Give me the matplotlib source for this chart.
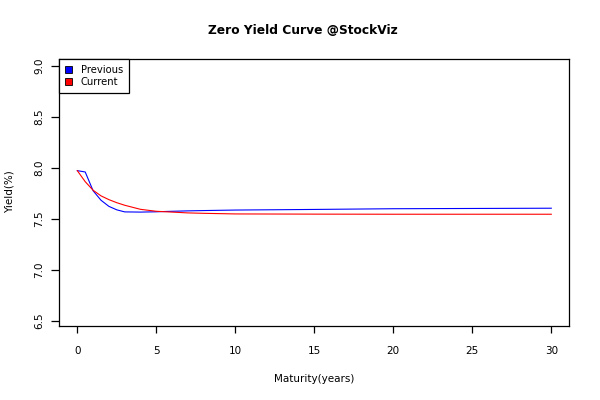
import matplotlib
matplotlib.use("Agg")
import matplotlib.pyplot as plt
from matplotlib.patches import Patch

maturity = [0, 0.5, 1, 1.5, 2, 2.5, 3, 4, 5, 6, 7, 8, 10, 15, 20, 30]
previous = [7.972, 7.959, 7.775, 7.682, 7.622, 7.588, 7.568, 7.566, 7.569,
            7.574, 7.578, 7.581, 7.586, 7.592, 7.599, 7.604]
current = [7.972, 7.864, 7.780, 7.725, 7.688, 7.658, 7.633, 7.593, 7.574,
           7.566, 7.558, 7.554, 7.548, 7.546, 7.545, 7.545]
xticks = [0, 5, 10, 15, 20, 25, 30]
yticks = [6.5, 7.0, 7.5, 8.0, 8.5, 9.0]

plt.rcParams['font.family'] = ['DejaVu Sans']
fig = plt.figure(figsize=(6, 4), dpi=100)
ax = fig.add_axes([59.3 / 600, 1 - 326 / 400, (569.3 - 59.3) / 600, (326 - 59.3) / 400])

ax.plot(maturity, previous, color='blue', lw=0.8)
ax.plot(maturity, current, color='red', lw=0.8)

ax.set_xlim(-1.14, 31.14)
ax.set_ylim(6.45, 9.063)
ax.set_xticks(xticks)
ax.set_xticklabels([str(t) for t in xticks])
ax.set_yticks(yticks)
ax.set_yticklabels([f"{t:.1f}" for t in yticks], rotation=90, va='center')
ax.tick_params(direction='out', width=0.9, labelsize=7.5)
ax.tick_params(axis='x', length=5.2, pad=9)
ax.tick_params(axis='y', length=6, pad=4.7)
for s in ax.spines.values():
    s.set_linewidth(0.9)

fig.text(0.5 + 3 / 600, 1 - 31 / 400, "Zero Yield Curve @StockViz", ha='center', va='center',
         fontsize=8.8, fontweight='bold')
fig.text(314 / 600, 1 - 379 / 400, "Maturity(years)", ha='center', va='center', fontsize=7.5)
fig.text(10 / 600, 1 - 192 / 400, "Yield(%)", ha='center', va='center', fontsize=7.5, rotation=90)

handles = [Patch(facecolor='blue', edgecolor='black', lw=0.6, label='Previous'),
           Patch(facecolor='red', edgecolor='black', lw=0.6, label='Current')]
leg = ax.legend(handles=handles, loc='upper left', borderaxespad=0, fancybox=False,
                edgecolor='black', framealpha=1, fontsize=7.2, handlelength=0.7,
                handleheight=0.7, handletextpad=0.9, labelspacing=0.25, borderpad=0.55)
leg.get_frame().set_linewidth(0.9)

fig.savefig("out.png", dpi=100)
